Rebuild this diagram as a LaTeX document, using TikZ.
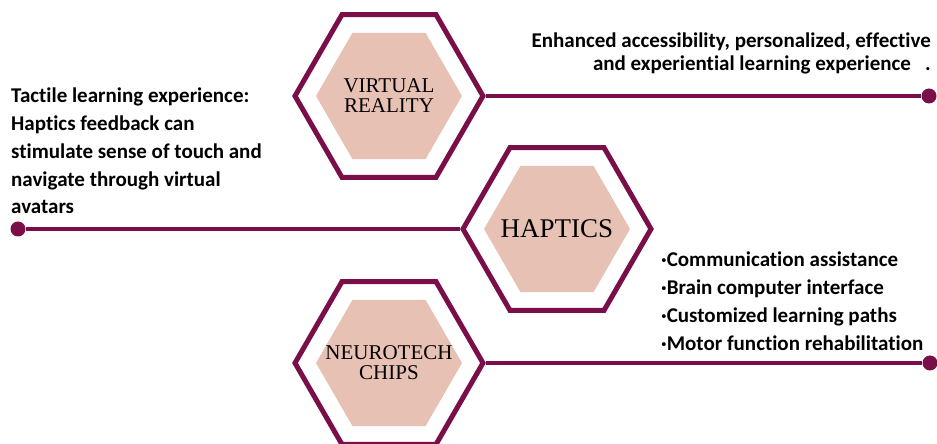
\documentclass[tikz,border=0pt]{standalone}
\usepackage{fontspec}
\setmainfont{Liberation Serif}
\newfontfamily\notefont{Carlito}[Ligatures=NoCommon]
\usetikzlibrary{shapes.geometric,positioning}

\definecolor{plum}{RGB}{122,14,72}
\definecolor{blush}{RGB}{232,193,181}

\begin{document}
\begin{tikzpicture}[x=1pt, y=1pt,
    hexframe/.style={regular polygon, regular polygon sides=6, draw=plum,
                     line width=5pt, minimum size=188pt, inner sep=0pt},
    hexcore/.style={regular polygon, regular polygon sides=6, fill=blush,
                    minimum size=146pt, inner sep=0pt},
    title/.style={align=center, inner sep=0pt},
    link/.style={draw=plum, line width=3.5pt},
    knob/.style={circle, fill=plum, minimum size=15pt, inner sep=0pt},
    note/.style={font=\notefont\bfseries\fontsize{21}{27.7}\selectfont,
                 inner sep=0pt}
]
\useasboundingbox (0,0) rectangle (937,444);

% Virtual reality
\node[hexframe] (vr) at (389,348) {};
\node[hexcore] (vrcore) at (vr.center) {};
\node[title, font=\fontsize{21}{20}\selectfont] (vrtitle) at (vrcore)
  {VIRTUAL\\REALITY};

% Haptics
\node[hexframe] (hap) at (557,215) {};
\node[hexcore] (hapcore) at (hap.center) {};
\node[title, font=\fontsize{27}{30}\selectfont] (haptitle) at (hapcore)
  {HAPTICS};

% Neurotech chips
\node[hexframe] (neuro) at (389,81) {};
\node[hexcore] (neurocore) at (neuro.center) {};
\node[title, font=\fontsize{21}{20}\selectfont] (neurotitle) at (neurocore)
  {NEUROTECH\\CHIPS};

% End points of the links
\node[knob] (vrdot) at (929,348) {};
\node[knob] (hapdot) at (18,215) {};
\node[knob] (neurodot) at (930,81) {};

\draw[link] (vr.east) -- (vrdot);
\draw[link] (hap.west) -- (hapdot);
\draw[link] (neuro.east) -- (neurodot);

% Notes
\node[note, align=right, anchor=north east,
      font=\notefont\bfseries\fontsize{21}{23}\selectfont] (vrnote) at (931,411)
  {Enhanced accessibility, personalized, effective\\
   and experiential learning experience\ \ \ .};

\node[note, align=left, anchor=north west] (hapnote) at (11,356)
  {Tactile learning experience:\\
   Haptics feedback can\\
   stimulate sense of touch and\\
   navigate through virtual\\
   avatars};

\node[note, align=left, anchor=north west] (neuronote) at (661,192)
  {·Communication assistance\\
   ·Brain computer interface\\
   ·Customized learning paths\\
   ·Motor function rehabilitation};

\end{tikzpicture}
\end{document}
